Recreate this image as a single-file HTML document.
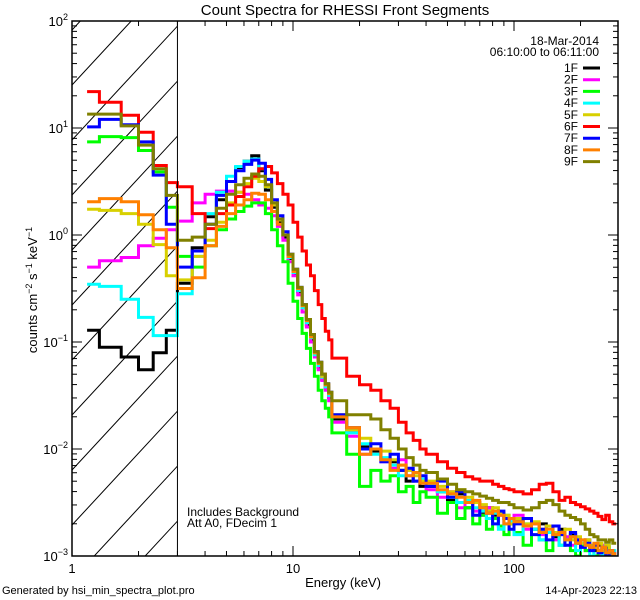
<!DOCTYPE html>
<html><head><meta charset="utf-8"><style>
html,body{margin:0;padding:0;background:#fff;width:640px;height:600px;overflow:hidden}
svg{display:block}
text{font-family:"Liberation Sans",sans-serif;fill:#000}
</style></head><body>
<svg id="chart" width="640" height="600" viewBox="0 0 640 600" xmlns="http://www.w3.org/2000/svg">
<rect x="0" y="0" width="640" height="600" fill="#fff"/>
<text x="345" y="15" font-size="15" text-anchor="middle">Count Spectra for RHESSI Front Segments</text>
<g id="hatch"></g>
<g id="series"></g>
<g id="axes"></g>
<text x="343" y="587" font-size="13" text-anchor="middle">Energy (keV)</text>
<text transform="translate(37,290) rotate(-90)" font-size="13" text-anchor="middle">counts cm<tspan dy="-5" font-size="9">−2</tspan><tspan dy="5"> s</tspan><tspan dy="-5" font-size="9">−1</tspan><tspan dy="5"> keV</tspan><tspan dy="-5" font-size="9">−1</tspan></text>
<text x="187" y="516" font-size="12">Includes Background</text>
<text x="187" y="527" font-size="12">Att A0, FDecim 1</text>
<text x="2" y="594" font-size="11">Generated by hsi_min_spectra_plot.pro</text>
<text x="637" y="594" font-size="11" text-anchor="end">14-Apr-2023 22:13</text>
<text x="599" y="45" font-size="12" text-anchor="end">18-Mar-2014</text>
<text x="599" y="56" font-size="12" text-anchor="end">06:10:00 to 06:11:00</text>
<g id="legend"></g>
</svg>
<script>
const NS="http://www.w3.org/2000/svg";
// ---- data ----
const seriesNames=["1F","2F","3F","4F","5F","6F","7F","8F","9F"];
const seriesColors=["#000000","#ff00ff","#00ff00","#00ffff","#d8d000","#ff0000","#0000ff","#ff8000","#808000"];
const lowEdges=[1.17,1.33,1.67,2,2.33,2.67,3];
const yTickExps=[-3,-2,-1,0,1,2];
const xTickLabels=["1","10","100"];
// log10(counts) per bin
const s1F=[-0.89,-1.05,-1.14,-1.26,-1.1,-0.89,
-0.45,-0.12,0.17,0.33,0.5,0.63,0.69,0.74,0.6,0.42,0.26,0.12,-0.02,-0.22,-0.36,-0.53,-0.68,-0.84,-0.98,-1.12,-1.24,-1.35,-1.43,-1.52,
-1.72,-1.82,-1.98,-2.02,-2.1,-2.12,-2.2,-2.3,-2.22,-2.35,
-2.35,-2.4,-2.48,-2.42,-2.55,-2.5,-2.6,-2.55,-2.62,-2.6,-2.65,-2.7,
-2.68,-2.72,-2.75,-2.7,-2.78,-2.82,-2.75,-2.85,-2.8,-2.88,-2.9,-2.85,-2.92,-2.95,-2.9,-2.97,-2.92,-2.95,-3.0];
const s2F=[-0.3,-0.24,-0.21,-0.1,-0.03,0.05,
0.13,0.3,0.38,0.41,0.41,0.4,0.38,0.33,0.28,0.25,0.18,0.08,-0.05,-0.25,-0.38,-0.56,-0.72,-0.86,-1.0,-1.14,-1.26,-1.36,-1.45,-1.55,
-1.75,-1.88,-2.05,-2.0,-2.12,-2.18,-2.1,-2.25,-2.3,-2.28,
-2.38,-2.45,-2.4,-2.55,-2.5,-2.58,-2.62,-2.55,-2.65,-2.62,-2.7,-2.68,
-2.62,-2.75,-2.7,-2.8,-2.72,-2.85,-2.78,-2.82,-2.9,-2.85,-2.88,-2.95,-2.9,-2.92,-2.98,-2.9,-2.95,-3.0,-2.96];
const s3F=[0.87,0.92,0.91,0.79,0.59,0.26,
-0.2,-0.3,-0.1,0.05,0.15,0.22,0.27,0.3,0.3,0.2,0.05,-0.1,-0.25,-0.45,-0.62,-0.78,-0.92,-1.06,-1.2,-1.32,-1.45,-1.55,-1.62,-1.7,
-1.85,-2.05,-2.35,-2.2,-2.3,-2.25,-2.4,-2.35,-2.5,-2.4,
-2.45,-2.6,-2.5,-2.65,-2.55,-2.7,-2.62,-2.75,-2.65,-2.72,-2.8,-2.7,
-2.78,-2.9,-2.75,-2.85,-2.95,-2.8,-2.9,-2.85,-2.95,-3.0,-2.9,-2.95,-2.92,-3.0,-2.95,-2.98,-3.0,-2.95,-3.0];
const s4F=[-0.46,-0.48,-0.6,-0.77,-0.94,-0.94,
-0.55,-0.2,0.2,0.4,0.55,0.64,0.69,0.71,0.62,0.45,0.28,0.14,0.0,-0.21,-0.35,-0.52,-0.68,-0.82,-0.96,-1.12,-1.22,-1.33,-1.42,-1.5,
-1.7,-1.85,-1.95,-2.05,-2.08,-2.15,-2.25,-2.2,-2.3,-2.28,
-2.32,-2.4,-2.45,-2.5,-2.48,-2.55,-2.58,-2.65,-2.6,-2.75,-2.62,-2.68,
-2.8,-2.7,-2.75,-2.85,-2.78,-2.8,-2.9,-2.85,-2.82,-2.95,-2.88,-2.9,-3.0,-2.92,-2.95,-2.98,-2.9,-3.0,-2.95];
const s5F=[0.24,0.23,0.2,0.1,-0.09,-0.38,
-0.42,-0.2,-0.05,0.12,0.3,0.4,0.48,0.53,0.5,0.45,0.28,0.14,0.0,-0.2,-0.34,-0.5,-0.66,-0.8,-0.95,-1.1,-1.2,-1.32,-1.4,-1.48,
-1.68,-1.82,-1.9,-2.0,-2.02,-2.1,-2.15,-2.2,-2.25,-2.3,
-2.3,-2.35,-2.4,-2.38,-2.45,-2.5,-2.52,-2.58,-2.55,-2.6,-2.62,-2.7,
-2.65,-2.7,-2.68,-2.75,-2.72,-2.78,-2.8,-2.75,-2.85,-2.82,-2.88,-2.85,-2.9,-2.92,-2.88,-2.95,-2.9,-2.95,-2.98];
const s6F=[1.34,1.24,1.12,0.96,0.65,0.49,
0.45,0.2,0.06,0.2,0.28,0.36,0.45,0.55,0.62,0.64,0.58,0.48,0.38,0.28,0.12,-0.02,-0.15,-0.28,-0.38,-0.52,-0.65,-0.78,-0.9,-0.98,
-1.15,-1.32,-1.4,-1.45,-1.55,-1.62,-1.75,-1.85,-1.92,-2.0,
-2.05,-2.12,-2.18,-2.22,-2.26,-2.28,-2.3,-2.3,-2.33,-2.35,-2.37,-2.38,
-2.4,-2.42,-2.38,-2.33,-2.32,-2.4,-2.48,-2.45,-2.5,-2.52,-2.54,-2.56,-2.58,-2.6,-2.63,-2.66,-2.62,-2.68,-2.7];
const s7F=[1.01,1.08,1.03,0.87,0.56,0.1,
-0.3,-0.15,0.1,0.37,0.5,0.6,0.66,0.7,0.67,0.52,0.33,0.18,0.03,-0.18,-0.32,-0.49,-0.65,-0.79,-0.93,-1.09,-1.19,-1.3,-1.39,-1.47,
-1.68,-1.8,-2.0,-1.95,-2.12,-2.05,-2.2,-2.18,-2.3,-2.25,
-2.35,-2.3,-2.45,-2.4,-2.5,-2.62,-2.55,-2.6,-2.7,-2.58,-2.65,-2.75,
-2.7,-2.65,-2.8,-2.75,-2.85,-2.72,-2.8,-2.9,-2.78,-2.85,-2.92,-2.88,-2.95,-2.9,-2.97,-2.92,-3.0,-2.95,-2.98];
const s8F=[0.31,0.34,0.31,0.19,0.05,-0.12,
-0.5,-0.4,-0.1,0.08,0.2,0.28,0.33,0.39,0.38,0.33,0.22,0.1,0.0,-0.2,-0.34,-0.5,-0.66,-0.8,-0.95,-1.1,-1.2,-1.3,-1.4,-1.48,
-1.7,-1.8,-2.05,-2.0,-2.1,-2.2,-2.15,-2.25,-2.22,-2.32,
-2.32,-2.38,-2.42,-2.45,-2.5,-2.48,-2.55,-2.6,-2.58,-2.62,-2.7,-2.65,
-2.68,-2.72,-2.7,-2.78,-2.75,-2.8,-2.78,-2.85,-2.82,-2.88,-2.85,-2.9,-2.92,-2.88,-2.95,-2.92,-2.97,-2.95,-2.98];
const s9F=[1.13,1.13,1.02,0.84,0.62,0.37,
-0.05,-0.02,0.1,0.25,0.38,0.47,0.53,0.57,0.55,0.47,0.3,0.15,0.0,-0.18,-0.32,-0.49,-0.65,-0.79,-0.93,-1.09,-1.19,-1.3,-1.39,-1.47,
-1.55,-1.68,-1.68,-1.72,-1.82,-1.9,-2.0,-2.08,-2.15,-2.2,
-2.22,-2.28,-2.33,-2.38,-2.4,-2.42,-2.44,-2.46,-2.48,-2.5,-2.5,-2.52,
-2.55,-2.57,-2.55,-2.5,-2.48,-2.52,-2.58,-2.62,-2.64,-2.66,-2.7,-2.75,-2.8,-2.82,-2.85,-2.85,-2.87,-2.85,-2.88];
const seriesData=[s1F,s2F,s3F,s4F,s5F,s6F,s7F,s8F,s9F];

// ---- energy bin edges (categories) ----
const edges=lowEdges.slice();
for(let i=1;i<=24;i++)edges.push(3+i*0.5);
for(let i=1;i<=10;i++)edges.push(15+i*2.5);
for(let i=1;i<=12;i++)edges.push(40+i*5);
for(let i=1;i<=19;i++)edges.push(100+i*10);

// ---- axes geometry ----
const X0=72,X1=618,Y0=21,Y1=556;
const DEC_X=221, DEC_Y=(Y1-Y0)/5;
const xScale=e=>X0+DEC_X*Math.log10(e);
const yScale=l=>Y0+(2-l)*DEC_Y;

const svg=document.getElementById('chart');
function mk(tag,attrs,parent){const el=document.createElementNS(NS,tag);for(const k in attrs)el.setAttribute(k,attrs[k]);parent.appendChild(el);return el;}

const defs=mk('defs',{},svg);
const cp=mk('clipPath',{id:'plotclip'},defs);
mk('rect',{x:X0,y:Y0,width:X1-X0,height:Y1-Y0},cp);
const cpH=mk('clipPath',{id:'hatchclip'},defs);
mk('rect',{x:X0,y:Y0,width:xScale(3)-X0,height:Y1-Y0},cpH);

const hatch=document.getElementById('hatch');
hatch.setAttribute('clip-path','url(#hatchclip)');
for(let k=-2;k<14;k++){
  const yL=525-55*k;
  const ln=mk('line',{x1:X0,y1:yL,x2:X0+200,y2:yL-200*1.08,stroke:'#000','stroke-width':1},hatch);
  
  
}
const vl=mk('line',{x1:xScale(3),y1:Y0,x2:xScale(3),y2:Y1,stroke:'#000','stroke-width':1},hatch.parentNode);



const sg=document.getElementById('series');
sg.setAttribute('clip-path','url(#plotclip)');
seriesData.forEach((vals,si)=>{
  let d='';
  for(let i=0;i<vals.length;i++){
    const xa=xScale(edges[i]).toFixed(1), xb=xScale(edges[i+1]).toFixed(1);
    const y=yScale(Math.max(vals[i],-3.05)).toFixed(1);
    d+=(i===0?'M'+xa+','+y:'V'+y)+'H'+xb;
  }
  const p=mk('path',{d:d,fill:'none',stroke:seriesColors[si],'stroke-width':3,'stroke-linejoin':'miter'},sg);
  
  
});

const ax=document.getElementById('axes');
mk('rect',{x:X0,y:Y0,width:X1-X0,height:Y1-Y0,fill:'none',stroke:'#000','stroke-width':1.5},ax);
for(let dec=0;dec<3;dec++){
  for(let m=1;m<10;m++){
    const e=Math.pow(10,dec)*m; const x=xScale(e); if(x>X1)break;
    const len=m===1?10:5;
    mk('line',{x1:x,y1:Y1,x2:x,y2:Y1-len,stroke:'#000','stroke-width':1},ax);
    mk('line',{x1:x,y1:Y0,x2:x,y2:Y0+len,stroke:'#000','stroke-width':1},ax);
  }
}
xTickLabels.forEach((lab,i)=>{
  const t=mk('text',{x:xScale(Math.pow(10,i)),y:Y1+17,'font-size':13,'text-anchor':'middle'},ax);
  t.textContent=lab;
  
  
});
yTickExps.forEach(ex=>{
  for(let m=1;m<10;m++){
    const l=ex+Math.log10(m); if(l>2.001)break;
    const y=yScale(l); const len=m===1?10:5;
    mk('line',{x1:X0,y1:y,x2:X0+len,y2:y,stroke:'#000','stroke-width':1},ax);
    mk('line',{x1:X1,y1:y,x2:X1-len,y2:y,stroke:'#000','stroke-width':1},ax);
  }
  const t=mk('text',{x:X0-4,y:yScale(ex)+5,'font-size':13,'text-anchor':'end'},ax);
  
  
  const a=document.createElementNS(NS,'tspan');a.textContent='10';t.appendChild(a);
  const b=document.createElementNS(NS,'tspan');b.setAttribute('dy','-6');b.setAttribute('font-size','9');b.textContent=(ex<0?'−':'')+Math.abs(ex);t.appendChild(b);
});

const lg=document.getElementById('legend');
seriesNames.forEach((n,i)=>{
  const y=68+i*11.7;
  const t=mk('text',{x:578,y:y+4,'font-size':12,'text-anchor':'end'},lg);
  t.textContent=n;
  
  
  const l=mk('line',{x1:583,y1:y,x2:600,y2:y,stroke:seriesColors[i],'stroke-width':3},lg);
  
  
});
</script>
</body></html>
